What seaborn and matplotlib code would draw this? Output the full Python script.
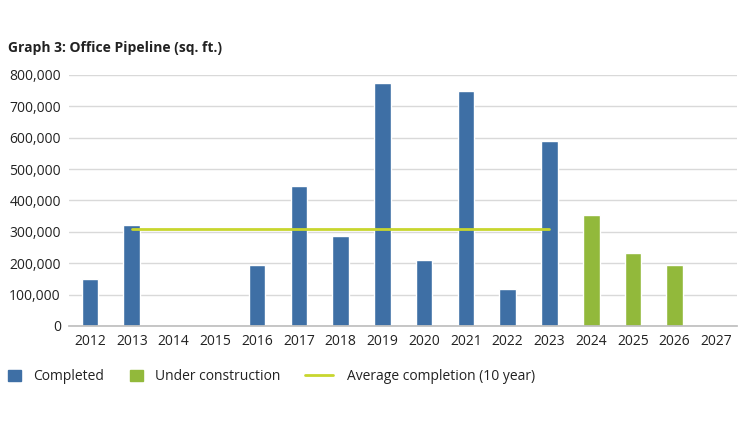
import pandas as pd
import seaborn as sns
import matplotlib.pyplot as plt
from matplotlib.patches import Patch
from matplotlib.lines import Line2D
from matplotlib.ticker import FuncFormatter

# values (sq. ft.)
years = [str(y) for y in range(2012, 2028)]
completed = [150000, 322000, 0, 0, 195000, 445000, 286000, 774000,
             209000, 750000, 119000, 591000, 0, 0, 0, 0]
under_construction = [0, 0, 0, 0, 0, 0, 0, 0,
                      0, 0, 0, 0, 354000, 234000, 195000, 0]
avg_completion = 310000
avg_span = ["2013", "2023"]

blue = "#3e6fa5"
green = "#92b93b"
lime = "#c8d62e"

sns.set_theme(style="whitegrid")
plt.rcParams['font.family'] = ['Open Sans', 'DejaVu Sans']

df = pd.DataFrame({
    "year": years * 2,
    "sqft": completed + under_construction,
    "status": ["Completed"] * len(years) + ["Under construction"] * len(years),
})

fig = plt.figure(figsize=(7.44, 4.41), dpi=100)
ax = fig.add_axes([0.093, 0.261, 0.898, 0.569])

sns.barplot(data=df, x="year", y="sqft", hue="status", order=years,
            palette={"Completed": blue, "Under construction": green},
            width=0.4, dodge=False, saturation=1, legend=False, ax=ax)

# average completion line between the two category positions
xs = [years.index(y) for y in avg_span]
ax.plot(xs, [avg_completion] * 2, color=lime, lw=2, zorder=3)

ax.set_ylim(0, 800000)
ax.set_xlim(-0.5, len(years) - 0.5)
ax.yaxis.set_major_formatter(FuncFormatter(lambda v, p: f"{int(v):,}"))
ax.set_xlabel("")
ax.set_ylabel("")
ax.grid(axis="x", visible=False)
ax.grid(axis="y", color="#d9d9d9", lw=1)
for s in ["top", "right", "left"]:
    ax.spines[s].set_visible(False)
ax.spines["bottom"].set_color("#bfbfbf")
ax.tick_params(axis="both", length=0, labelsize=10, colors="#222222")
ax.tick_params(axis="x", pad=6)
ax.tick_params(axis="y", pad=6)

fig.text(0.011, 0.881, "Graph 3: Office Pipeline (sq. ft.)", fontsize=10,
         fontweight="bold", color="#222222")

# legend: square patches and a longer line sample, so two legends side by side
common = dict(loc="center left", frameon=False, fontsize=10, borderpad=0,
              borderaxespad=0, labelcolor="#222222")
fig.legend([Patch(color=blue), Patch(color=green)],
           ["Completed", "Under construction"],
           bbox_to_anchor=(0.0108, 0.146), ncol=2, handlelength=0.9,
           handleheight=0.9, columnspacing=1.9, handletextpad=0.9,
           **common)
fig.legend([Line2D([0], [0], color=lime, lw=2)],
           ["Average completion (10 year)"],
           bbox_to_anchor=(0.41, 0.146), handlelength=2.0,
           handletextpad=1.0, **common)

fig.savefig("out.png", dpi=100)
